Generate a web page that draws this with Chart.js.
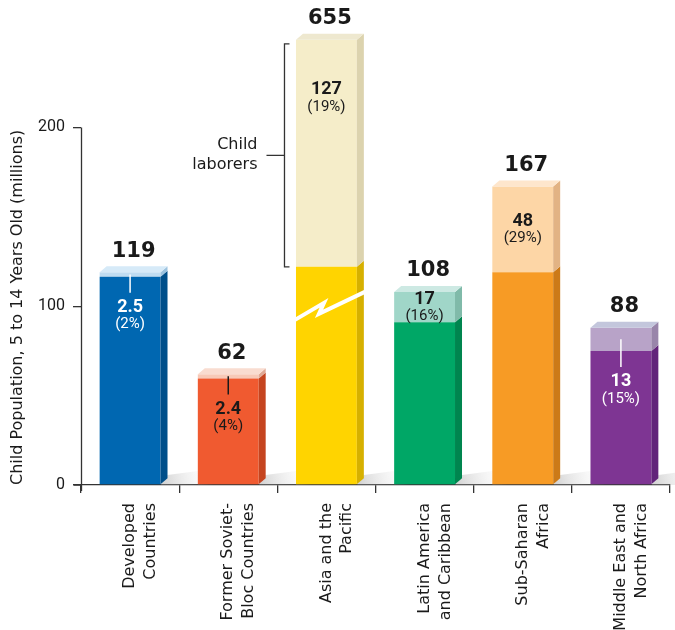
<!DOCTYPE html>
<html><head><meta charset="utf-8">
<script src="https://cdn.jsdelivr.net/npm/chart.js@4/dist/chart.umd.min.js"></script>
<style>html,body{margin:0;padding:0;background:#fff}#wrap{width:675px;height:630px;position:relative}</style>
</head><body><div id="wrap"><canvas id="c" width="675" height="630"></canvas></div>
<script>
// ---- data ----
const categories = [["Developed","Countries"],["Former Soviet-","Bloc Countries"],["Asia and the","Pacific"],["Latin America","and Caribbean"],["Sub-Saharan","Africa"],["Middle East and","North Africa"]];
const totals = [119, 62, 655, 108, 167, 88];
const laborers = [2.5, 2.4, 127, 17, 48, 13];
const laborLabels = ["2.5", "2.4", "127", "17", "48", "13"];
const laborPct = ["(2%)", "(4%)", "(19%)", "(16%)", "(29%)", "(15%)"];
const yTicks = [0, 100, 200];
const breakCap = 122; // displayed height of the off-scale (broken) part of a bar
const axisMax = 250;

// ---- styles ----
const mainColors  = ["#0067B1","#F05A30","#FFD400","#00A766","#F79B25","#7E3593"];
const mainSide    = ["#004F8A","#C5441F","#D6B000","#00854F","#CC7A18","#62247A"];
const laborColors = ["#BFDCF1","#F7C9B7","#F5EDC9","#A0D6C8","#FDD6A6","#B8A3C8"];
const laborSide   = ["#9CC2DE","#E0A995","#DCD3AE","#80BAA9","#E2B384","#9985AA"];
const topColors   = ["#D6EAF8","#F9DCD0","#EEE8CF","#CDE9E3","#FEE6CC","#C3C6DC"];
const lightText   = [true, false, false, false, false, true];
const DX = 7, DY = 6;
const TXT = '#1a1a1a';

const nonLabor = totals.map((t, i) => Math.min(t - laborers[i], breakCap));

const shadowPlugin = {
  id: 'shadow',
  beforeDatasetsDraw(chart) {
    const ctx = chart.ctx, meta = chart.getDatasetMeta(0);
    const base = chart.scales.y.getPixelForValue(0);
    meta.data.forEach(el => {
      const r = el.x + el.width / 2;
      const g = ctx.createLinearGradient(r, base, r + 50, base - 12);
      g.addColorStop(0, 'rgba(150,150,150,0.45)');
      g.addColorStop(1, 'rgba(220,220,220,0)');
      ctx.save();
      ctx.fillStyle = g;
      ctx.beginPath();
      ctx.moveTo(r, base);
      ctx.lineTo(r + DX, base - DY - 4);
      ctx.lineTo(r + 45, base - 15);
      ctx.lineTo(r + 60, base);
      ctx.closePath();
      ctx.fill();
      ctx.restore();
    });
  }
};

const threeD = {
  id: 'threeD',
  afterDatasetsDraw(chart) {
    const ctx = chart.ctx;
    [0, 1].forEach(di => {
      const meta = chart.getDatasetMeta(di);
      meta.data.forEach((el, i) => {
        const l = el.x - el.width / 2, r = el.x + el.width / 2;
        const top = el.y, bot = el.base;
        ctx.save();
        ctx.fillStyle = di === 0 ? mainSide[i] : laborSide[i];
        ctx.beginPath();
        ctx.moveTo(r, top); ctx.lineTo(r + DX, top - DY); ctx.lineTo(r + DX, bot - DY); ctx.lineTo(r, bot);
        ctx.closePath(); ctx.fill();
        if (di === 1) {
          ctx.fillStyle = topColors[i];
          ctx.beginPath();
          ctx.moveTo(l, top); ctx.lineTo(l + DX, top - DY); ctx.lineTo(r + DX, top - DY); ctx.lineTo(r, top);
          ctx.closePath(); ctx.fill();
        }
        ctx.restore();
      });
    });
    const m0 = chart.getDatasetMeta(0);
    m0.data.forEach((el, i) => {
      if (totals[i] - laborers[i] <= breakCap) return;
      const l = el.x - el.width / 2, r = el.x + el.width / 2, T = el.y;
      ctx.save();
      ctx.strokeStyle = '#fff'; ctx.lineWidth = 4; ctx.lineJoin = 'miter';
      ctx.beginPath();
      ctx.moveTo(l - 1, T + 53);
      ctx.lineTo(l + 28, T + 36);
      ctx.lineTo(l + 23, T + 47);
      ctx.lineTo(r + DX + 1, T + 25);
      ctx.stroke();
      ctx.restore();
    });
  },
  afterDraw(chart) {
    const ctx = chart.ctx, ys = chart.scales.y, xs = chart.scales.x;
    ctx.save();
    ctx.strokeStyle = '#333'; ctx.lineWidth = 1.3;
    ctx.beginPath();
    const ax = Math.round(xs.left) + 0.5;
    ctx.moveTo(ax, ys.getPixelForValue(yTicks[yTicks.length - 1]));
    ctx.lineTo(ax, ys.getPixelForValue(0) + 6);
    ctx.moveTo(ax - 8, ys.getPixelForValue(0));
    ctx.lineTo(ax, ys.getPixelForValue(0));
    ctx.stroke();
    ctx.restore();

    const m1 = chart.getDatasetMeta(1);
    m1.data.forEach((el, i) => {
      const l = el.x - el.width / 2;
      const top = el.y, bot = el.base;
      ctx.save();
      ctx.textAlign = 'center'; ctx.textBaseline = 'middle';
      ctx.fillStyle = TXT;
      ctx.font = 'bold 21px "DejaVu Sans"';
      ctx.fillText(String(totals[i]), el.x + DX / 2, top - DY - 15);
      const h = bot - top;
      const col = lightText[i] ? '#fff' : TXT;
      ctx.fillStyle = col; ctx.strokeStyle = col;
      let y1;
      if (h > 150) {
        y1 = top + 50;
      } else if (h > 30) {
        y1 = (top + bot) / 2 - 8;
      } else {
        const lineEnd = bot + 16;
        ctx.lineWidth = 1.5;
        ctx.beginPath();
        ctx.moveTo(el.x, (top + bot) / 2);
        ctx.lineTo(el.x, lineEnd);
        ctx.stroke();
        y1 = lineEnd + 15;
      }
      ctx.font = 'bold 18px Roboto';
      ctx.fillText(laborLabels[i], el.x, y1);
      ctx.font = '15px Roboto';
      ctx.fillText(laborPct[i], el.x, y1 + 17);
      ctx.restore();

      if (h > 150) {
        const bx = l - 11.5;
        const t = top + 4, b = bot;
        const mid = (t + b) / 2;
        ctx.save();
        ctx.strokeStyle = '#333'; ctx.lineWidth = 1.3;
        ctx.beginPath();
        ctx.moveTo(bx + 5, t); ctx.lineTo(bx, t); ctx.lineTo(bx, b); ctx.lineTo(bx + 5, b);
        ctx.moveTo(bx, mid); ctx.lineTo(bx - 18, mid);
        ctx.stroke();
        ctx.fillStyle = TXT;
        ctx.font = '16px "DejaVu Sans"';
        ctx.textAlign = 'right'; ctx.textBaseline = 'middle';
        ctx.fillText('Child', bx - 27, mid - 10);
        ctx.fillText('laborers', bx - 27, mid + 10);
        ctx.restore();
      }
    });
  }
};

new Chart(document.getElementById('c').getContext('2d'), {
  type: 'bar',
  data: {
    labels: categories,
    datasets: [
      { data: nonLabor, backgroundColor: mainColors, stack: 's', barPercentage: 0.62, categoryPercentage: 1 },
      { data: laborers, backgroundColor: laborColors, stack: 's', barPercentage: 0.62, categoryPercentage: 1 }
    ]
  },
  options: {
    responsive: false, animation: false, devicePixelRatio: 1,
    layout: { padding: { top: 38, right: 5, left: 0, bottom: 0 } },
    plugins: { legend: { display: false }, tooltip: { enabled: false } },
    scales: {
      x: {
        stacked: true,
        grid: { display: true, drawOnChartArea: false, tickLength: 8, color: '#333', lineWidth: 1.3, offset: true },
        border: { color: '#333', width: 1.3 },
        ticks: { maxRotation: 90, minRotation: 90, font: { family: '"DejaVu Sans"', size: 16, lineHeight: 1.3 }, color: TXT, padding: 10 },
        afterFit(s) { s.height = 145; }
      },
      y: {
        stacked: true, min: 0, max: axisMax,
        afterBuildTicks(s) { s.ticks = yTicks.map(v => ({ value: v })); },
        grid: { drawOnChartArea: false, tickLength: 8, color: '#333', lineWidth: 1.3 },
        border: { display: false },
        ticks: { font: { family: 'Roboto', size: 16 }, color: TXT, padding: 8 },
        title: { display: true, align: 'start', text: 'Child Population, 5 to 14 Years Old (millions)', font: { family: '"DejaVu Sans"', size: 16 }, color: TXT, padding: { top: 8, bottom: 0 } },
        afterFit(s) { s.width = 81; }
      }
    }
  },
  plugins: [shadowPlugin, threeD]
});
</script></body></html>
